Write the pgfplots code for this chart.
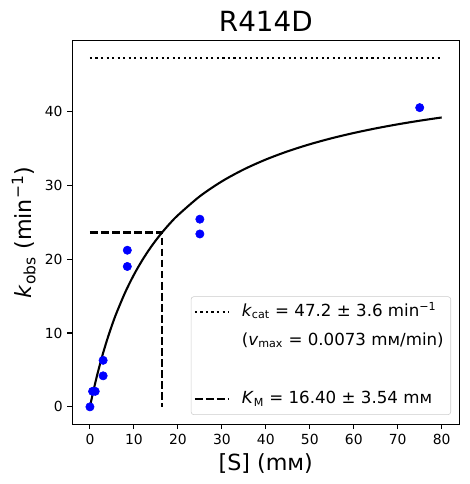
\documentclass[border=0pt]{standalone}
\usepackage{fontspec}
\setmainfont{DejaVu Sans}
\usepackage{pgfplots}
\pgfplotsset{compat=1.18}
\usetikzlibrary{calc}
\newcommand{\sub}[1]{\textsubscript{#1}}
\newcommand{\sups}[1]{\textsuperscript{#1}}
\begin{document}
\begin{tikzpicture}
\useasboundingbox (-52.1pt,-43pt) rectangle (285.6pt,305.5pt);
\begin{axis}[
  at={(0,0)}, anchor=south west,
  scale only axis, width=278.6pt, height=276.2pt,
  xmin=-4, xmax=84, ymin=-2.36, ymax=49.56,
  xtick={0,10,...,80}, ytick={0,10,20,30,40},
  tick align=outside, tick pos=left,
  major tick length=3.5pt,
  every tick/.style={black, line width=0.8pt},
  axis line style={line width=0.8pt},
  ticklabel style={font=\fontsize{10}{12}\selectfont},
  /pgf/number format/assume math mode=true,
  legend image code/.code={\draw[#1] (0pt,0pt) -- (24pt,0pt);},
  legend cell align=left,
  legend style={
    at={(0.9786,0.0243)}, anchor=south east,
    draw=black!20, rounded corners=2pt, fill=white, fill opacity=0.8, text opacity=1,
    font=\fontsize{12}{14}\selectfont,
    nodes={text height=9pt, text depth=3pt, inner sep=3pt},
    row sep=3pt, column sep=6pt, inner xsep=2pt, inner ysep=2pt,
  },
]
% kcat dotted line
\addplot[black, line width=1.5pt, dash pattern=on 1.5pt off 2.475pt, forget plot] coordinates {(0,47.2) (80,47.2)};
% KM dashed
\addplot[black, line width=1.5pt, dash pattern=on 5.55pt off 2.4pt, forget plot] coordinates {(0,23.6) (16.4,23.6) (16.4,0)};
% fit curve
\addplot[black, line width=1.5pt, smooth, forget plot] coordinates {
(0,0) (0.5,1.396) (1,2.713) (1.5,3.955) (2,5.130) (3,7.299) (4,9.255) (5,11.028) (6,12.643)
(8,15.475) (10,17.879) (12,19.944) (14,21.737) (16,23.309) (18,24.698) (20,25.934)
(25,28.502) (30,30.517) (35,32.140) (40,33.475) (45,34.593) (50,35.542) (55,36.359)
(60,37.068) (65,37.690) (70,38.241) (75,38.731) (80,39.170)};
% data
\addplot[only marks, mark=*, mark size=3pt, blue, mark options={draw=blue, fill=blue}, forget plot] coordinates {
(0,0) (0.6,2.1) (1.2,2.1) (3,6.3) (3,4.2) (8.5,21.2) (8.5,19.0) (25,25.4) (25,23.4) (75,40.5)};
\addlegendimage{black, line width=1.5pt, dash pattern=on 1.5pt off 2.475pt}
\addlegendentry{\textit{k}\sub{cat} = 47.2 ± 3.6 min\sups{−1}}
\addlegendimage{empty legend}
\addlegendentry{(\textit{v}\sub{max} = 0.0073 mᴍ/min)}
\addlegendimage{empty legend}
\addlegendentry{\strut}
\addlegendimage{black, line width=1.5pt, dash pattern=on 5.55pt off 2.4pt}
\addlegendentry{\textit{K}\sub{M} = 16.40 ± 3.54 mᴍ}
\end{axis}
\node[anchor=base, font=\fontsize{20}{24}\selectfont] at ($(current axis.north)+(0,6.5pt)$) {R414D};
\node[anchor=base, font=\fontsize{16}{19}\selectfont] at ($(current axis.south)+(0,-33.4pt)$) {[S] (mᴍ)};
\node[anchor=base, rotate=90, font=\fontsize{16}{19}\selectfont] at ($(current axis.west)+(-29.2pt,0)$) {\textit{k}\sub{obs} (min\sups{−1})};
\end{tikzpicture}
\end{document}
